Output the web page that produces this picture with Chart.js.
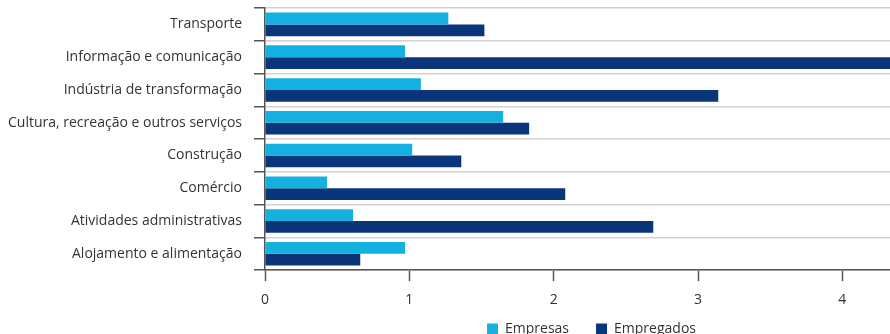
<!DOCTYPE html>
<html>
<head>
<meta charset="utf-8">
<script src="https://cdn.jsdelivr.net/npm/chart.js@4/dist/chart.umd.min.js"></script>
<style>
  html, body { margin: 0; padding: 0; background: #fff; overflow: hidden; height: 334px; }
  #wrap { position: relative; width: 890px; height: 369px; }
</style>
</head>
<body>
<div id="wrap"><canvas id="chart"></canvas></div>
<script>
const categories = [
  "Transporte",
  "Informação e comunicação",
  "Indústria de transformação",
  "Cultura, recreação e outros serviços",
  "Construção",
  "Comércio",
  "Atividades administrativas",
  "Alojamento e alimentação",
];
const empresas = [1.27, 0.97, 1.08, 1.65, 1.02, 0.43, 0.61, 0.97];
const empregados = [1.52, 4.5, 3.14, 1.83, 1.36, 2.08, 2.69, 0.66];
const xTicks = [0, 1, 2, 3, 4];

const FONT = "'Open Sans', 'Noto Sans', sans-serif";
const TEXT = "#333333";
const AXIS = "#555555";

// nudge the legend right and up, like the reference
const legendShift = {
  id: "legendShift",
  afterLayout(chart) {
    const lg = chart.legend;
    if (!lg) return;
    lg.left += 14;
    lg.right += 14;
    lg.top -= 23;
    lg.bottom -= 23;
  },
};

new Chart(document.getElementById("chart").getContext("2d"), {
  type: "bar",
  data: {
    labels: categories,
    datasets: [
      { label: "Empresas", data: empresas, backgroundColor: "#13b0e0" },
      { label: "Empregados", data: empregados, backgroundColor: "#0a357b" },
    ],
  },
  options: {
    indexAxis: "y",
    responsive: true,
    maintainAspectRatio: false,
    animation: false,
    categoryPercentage: 0.72,
    barPercentage: 1.0,
    layout: { padding: { top: 8, right: 0, left: 0, bottom: 0 } },
    plugins: {
      tooltip: { enabled: false },
      legend: {
        position: "bottom",
        fullSize: false,
        labels: {
          boxWidth: 11,
          boxHeight: 11,
          padding: 27,
          color: TEXT,
          font: { family: FONT, size: 14 },
        },
      },
    },
    scales: {
      x: {
        min: 0,
        max: 4.33,
        afterBuildTicks: (s) => { s.ticks = xTicks.map((v) => ({ value: v })); },
        ticks: { color: TEXT, padding: 10, font: { family: FONT, size: 14 } },
        grid: { drawOnChartArea: false, drawTicks: true, tickLength: 11, tickColor: AXIS, tickWidth: 1.5 },
        border: { display: true, color: AXIS, width: 1.5 },
      },
      y: {
        afterFit: (s) => {
          s.width = 265;
          s.paddingTop = 0;
          s.paddingBottom = 0;
        },
        ticks: { color: TEXT, padding: 12, font: { family: FONT, size: 14 } },
        grid: {
          offset: true,
          color: "#d2d2d2",
          lineWidth: 1.5,
          tickLength: 11,
          tickColor: AXIS,
          tickWidth: 1.5,
        },
        border: { display: true, color: AXIS, width: 1.5 },
      },
    },
  },
  plugins: [legendShift],
});
</script>
</body>
</html>
